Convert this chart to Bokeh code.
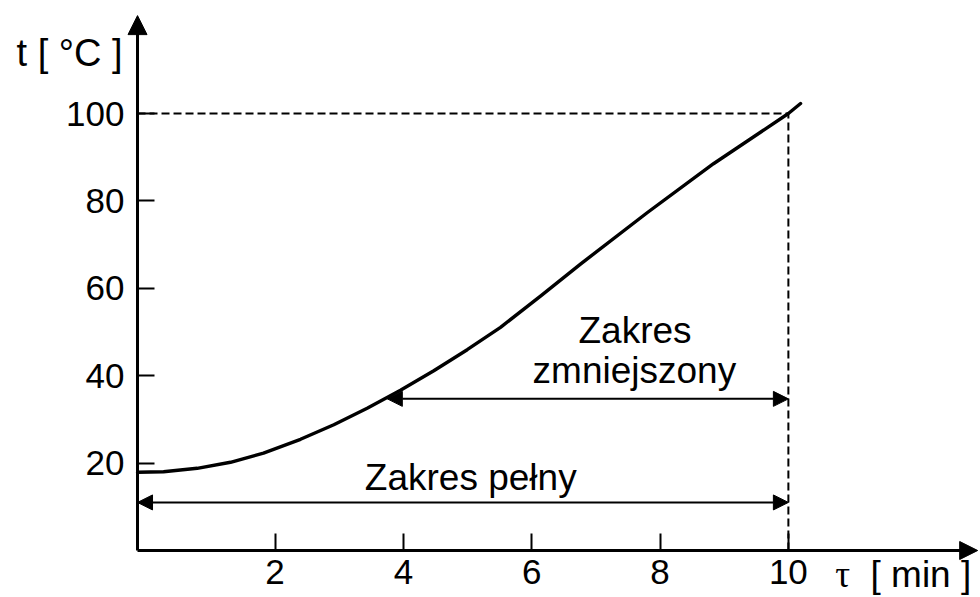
from bokeh.plotting import figure
from bokeh.models import (Range1d, LinearAxis, FixedTicker, Arrow, NormalHead,
                          ColumnDataSource, Label)
from bokeh.embed import file_html
from bokeh.resources import INLINE

# ---- data ----
tau = [-0.143, 0.262, 0.787, 1.306, 1.82, 2.397, 2.916, 3.436, 3.955, 4.474,
       4.995, 5.514, 6.137, 6.76, 7.804, 8.833, 10.0, 10.19]
temp = [17.92, 18.03, 18.81, 20.19, 22.29, 25.45, 28.79, 32.54, 36.66, 41.14,
        45.95, 51.07, 58.21, 65.54, 77.35, 88.51, 100.0, 102.29]

x_ticks = [2, 4, 6, 8, 10]
y_ticks = [20, 40, 60, 80, 100]

tau_end = 10.0
temp_end = 100.0

range_start = [-0.143, 3.75]
range_end = [10.0, 10.0]
range_level = [11.0, 34.7]

FONT = "Liberation Sans"

X0 = -0.143  # position of the vertical axis

p = figure(width=980, height=597, output_backend="svg", toolbar_location=None,
           x_range=Range1d(-2.2783, 12.994), y_range=Range1d(-10.755, 125.86),
           x_axis_type=None, y_axis_type=None, min_border=0,
           background_fill_color="white", border_fill_color="white")
p.outline_line_color = None

# axes
xa = LinearAxis(fixed_location=0, ticker=FixedTicker(ticks=x_ticks), bounds=(X0, 12.9))
ya = LinearAxis(fixed_location=X0, ticker=FixedTicker(ticks=y_ticks), bounds=(0, 121.5))
for ax in (xa, ya):
    ax.axis_line_width = 3
    ax.axis_line_color = "black"
    ax.major_tick_in = 17
    ax.major_tick_out = 0
    ax.major_tick_line_width = 2
    ax.major_tick_line_color = "black"
    ax.minor_tick_line_color = None
    ax.major_label_text_font = FONT
    ax.major_label_text_font_size = "35px"
    ax.major_label_text_color = "black"
xa.major_label_standoff = 9
ya.major_label_standoff = 13
p.add_layout(xa, "below")
p.add_layout(ya, "left")

# axis arrowheads
p.add_layout(Arrow(x_start=12.5, y_start=0, x_end=12.95, y_end=0, line_width=3,
                   end=NormalHead(size=18, fill_color="black", line_color="black")))
p.add_layout(Arrow(x_start=X0, y_start=117, x_end=X0, y_end=122.4, line_width=3,
                   end=NormalHead(size=19, fill_color="black", line_color="black")))

# dashed guide lines
p.line([X0, tau_end], [temp_end, temp_end], line_color="black", line_width=2, line_dash="8 4")
p.line([tau_end, tau_end], [0, temp_end], line_color="black", line_width=2, line_dash="8 4")

# curve
p.line(tau, temp, line_color="black", line_width=3.4, line_join="round", line_cap="round")

# range arrows
src = ColumnDataSource(dict(x0=range_start, x1=range_end, y=range_level))
p.add_layout(Arrow(source=src, x_start="x0", y_start="y", x_end="x1", y_end="y",
                   line_width=2, line_color="black",
                   start=NormalHead(size=15, fill_color="black", line_color="black"),
                   end=NormalHead(size=15, fill_color="black", line_color="black")))

# texts
def lab(x, y, text, align="center", font=FONT, size="37px"):
    p.add_layout(Label(x=x, y=y, text=text, text_align=align, text_baseline="alphabetic",
                       text_font=font, text_font_size=size, text_color="black"))

lab(5.05, 16.7, "Zakres pełny")
lab(7.61, 50.4, "Zakres")
lab(7.60, 41.26, "zmniejszony")
lab(-0.377, 113.75, "t [ °C ]", align="right", size="38px")
lab(10.73, -5.5, "τ", align="left", font="Liberation Serif")
lab(11.28, -5.5, "[ min ]", align="left")

open("out.html", "w").write(file_html(p, INLINE))
